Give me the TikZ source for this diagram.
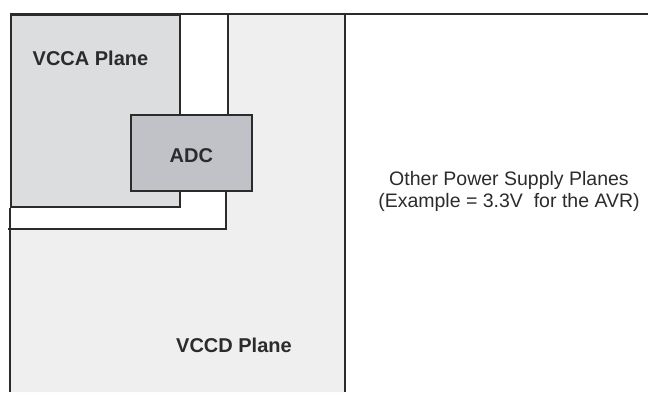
\documentclass[tikz,border=0pt]{standalone}
\usepackage{fontspec}
\setmainfont{Liberation Sans}
\usetikzlibrary{positioning}
\definecolor{edge}{HTML}{2B2B2B}
\definecolor{vccafill}{HTML}{DCDDDF}
\definecolor{vccdfill}{HTML}{EEEFEE}
\definecolor{adcfill}{HTML}{C0C2C8}

\begin{document}
\begin{tikzpicture}[x=1pt, y=-1pt, font=\fontsize{19.5}{22}\selectfont]
\tikzset{
  outline/.style={draw=edge, line width=1.6pt},
  planebox/.style={rectangle, outline, anchor=north west, inner sep=0pt},
  lbl/.style={font=\fontsize{20}{24}\selectfont\bfseries, text=edge, inner sep=0pt},
}
\useasboundingbox (0,0) rectangle (648,392);
% VCCD plane area
\fill[vccdfill] (10,14) -- (345,14) -- (345,392) -- (10,392) -- (10,229) -- (226,229) -- (226,190) -- (228,190) -- (228,14) -- cycle;
\fill[white] (179,14) rectangle (228,114);
% VCCA plane
\node[planebox, fill=vccafill, minimum width=169pt, minimum height=192pt] (vcca) at (10,14) {};
% ADC block
\node[planebox, fill=adcfill, minimum width=121pt, minimum height=76pt,
      text height=20pt, text depth=0pt, lbl] (adc) at (130,114) {ADC};
% plane borders
\draw[outline] (vcca.north west) -- (648,14);
\draw[outline] (vcca.south west) -- (10,392);
\draw[outline] (228,14) -- (228,114);
\draw[outline] (226,190) -- (226,229) -- (8,229);
\draw[outline] (345,14) -- (345,392);
% labels
\node[lbl] (vccatext) at (90.5,58) {VCCA Plane};
\node[lbl] (vccdtext) at (234,345) {VCCD Plane};
\node[align=center, text=edge] (othertext) at (509,191) {Other Power Supply Planes\\(Example = 3.3V\ \ for the AVR)};
\end{tikzpicture}
\end{document}
